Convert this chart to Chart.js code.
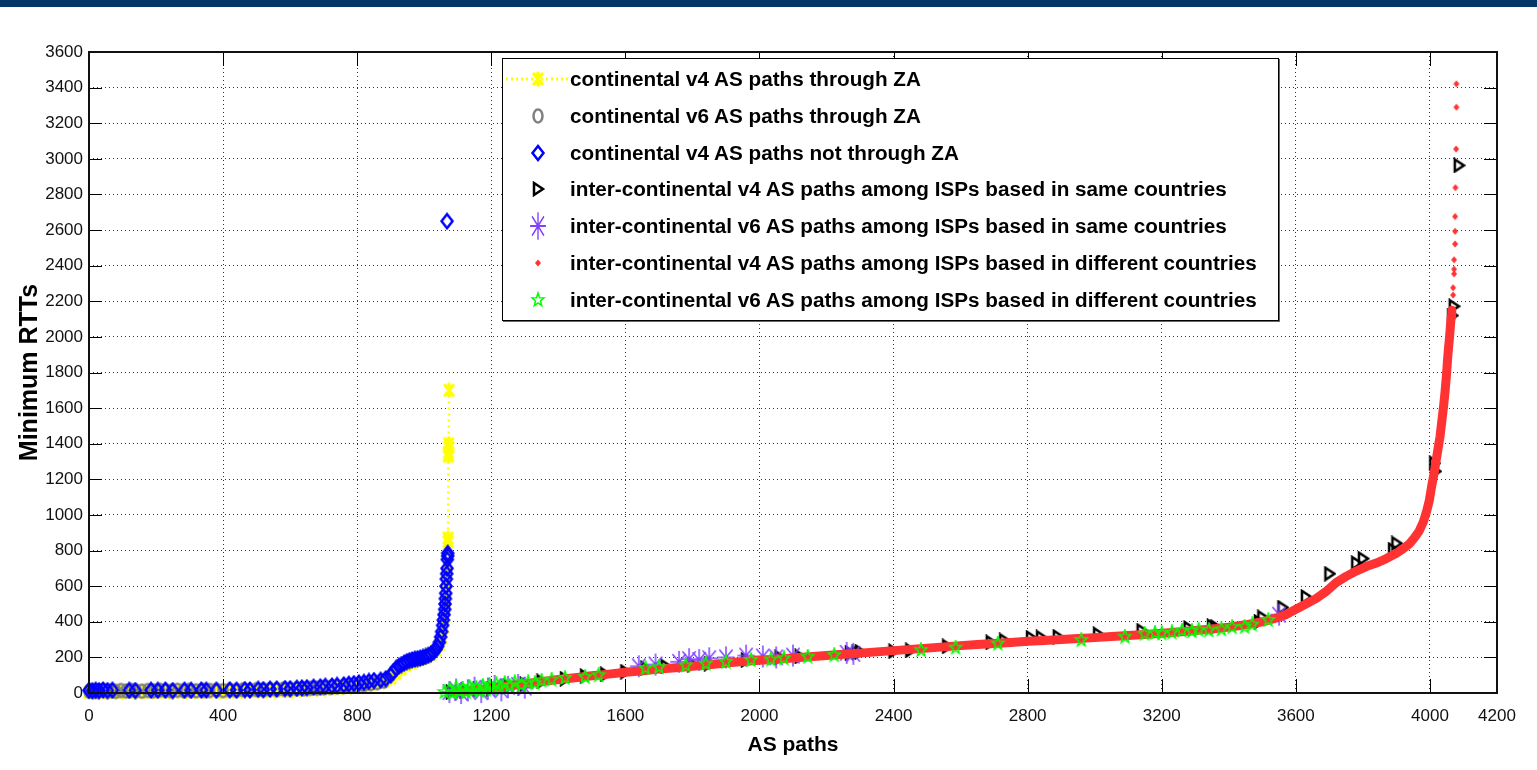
<!DOCTYPE html>
<html>
<head>
<meta charset="utf-8">
<script src="https://cdn.jsdelivr.net/npm/chart.js@4.4.1/dist/chart.umd.min.js"></script>
<style>
html,body{margin:0;padding:0;background:#fff;overflow:hidden;}
#wrap{position:relative;width:1537px;height:770px;background:#fff;}
#c{position:absolute;left:0;top:0;}
#topbar{position:absolute;left:0;top:0;width:1537px;height:7px;background:#053867;}
#legend{position:absolute;left:502px;top:58px;width:775px;height:261px;border:1px solid #000;box-shadow:1px 1px 0 #666;background:#fff;}
#legend .row{position:absolute;left:0;width:100%;height:36px;}
#legend .row canvas{position:absolute;left:0;top:0;}
#legend .row span{position:absolute;left:67px;top:0;height:36px;line-height:36px;white-space:nowrap;font-family:'Liberation Sans',Arial,sans-serif;font-weight:bold;color:#000;}
</style>
</head>
<body>
<div id="wrap">
  <canvas id="c" width="1537" height="770"></canvas>
  <div id="topbar"></div>
  <div id="legend"></div>
</div>
<script>
// ---------------- data ----------------
const seriesLabels = [
  'continental v4 AS paths through ZA',
  'continental v6 AS paths through ZA',
  'continental v4 AS paths not through ZA',
  'inter-continental v4 AS paths among ISPs based in same countries',
  'inter-continental v6 AS paths among ISPs based in same countries',
  'inter-continental v4 AS paths among ISPs based in different countries',
  'inter-continental v6 AS paths among ISPs based in different countries'
];
const xTicks = [0,400,800,1200,1600,2000,2400,2800,3200,3600,4000,4200];
const yTicks = [0,200,400,600,800,1000,1200,1400,1600,1800,2000,2200,2400,2600,2800,3000,3200,3400,3600];
const xTitle = 'AS paths';
const yTitle = 'Minimum RTTs';

const contV4ThroughZA = [[0,4],[15,6],[30,3],[45,8],[60,5],[80,7],[100,4],[120,9],[140,6],[165,8],[190,5],[215,9],[240,7],[265,10],[290,6],[315,9],[340,8],[365,11],[390,7],[410,10],[430,12],[455,9],[480,13],[505,11],[530,14],[555,12],[580,16],[605,14],[630,18],[655,20],[680,22],[705,25],[730,28],[755,32],[780,36],[805,42],[830,48],[855,55],[880,65],[900,85],[915,110],[930,135],[945,155],[960,170],[975,180],[990,190],[1005,200],[1020,215],[1035,240],[1045,270],[1052,310],[1058,370],[1062,430],[1065,520],[1067,620],[1069,720],[1071,850],[1071,870],[1072,1330],[1072,1350],[1073,1380],[1073,1400],[1074,1700]];

const contV6ThroughZA = [[0,10],[10,14],[20,8],[30,12],[42,15],[55,10],[68,13],[80,9],[95,14],[110,11],[125,15],[140,12],[158,10],[175,14],[192,12],[210,16],[228,13],[246,11],[264,15],[282,13],[300,16],[320,12],[340,15],[360,14],[380,17],[400,13],[420,16],[440,15],[460,18],[480,16],[500,19],[520,17],[540,20],[560,19],[580,22],[600,21],[620,24],[640,23],[660,26],[680,27],[700,29],[720,31],[740,33],[760,36],[780,39],[800,43],[820,47],[840,52],[860,58],[880,66]];

const contV4NotZA = [[0,15],[10,12],[20,16],[30,13],[42,17],[55,14],[70,16],[120,15],[138,14],[185,16],[205,15],[228,17],[250,14],[285,16],[305,15],[335,17],[350,16],[380,15],[420,18],[440,16],[465,19],[480,17],[505,21],[520,19],[540,22],[560,23],[585,25],[600,24],[620,27],[635,29],[650,30],[670,33],[690,35],[705,38],[725,40],[740,43],[760,46],[775,50],[790,53],[805,57],[820,60],[835,65],[850,70],[870,72],[885,80],[900,100],[908,120],[916,138],[924,150],[932,160],[940,168],[948,176],[956,182],[964,186],[972,190],[980,193],[988,196],[996,200],[1004,205],[1012,212],[1020,220],[1028,230],[1035,245],[1040,262],[1045,285],[1049,315],[1052,345],[1055,380],[1057,410],[1059,440],[1061,470],[1062,500],[1063,530],[1064,560],[1065,600],[1066,640],[1067,670],[1068,700],[1069,750],[1070,770],[1070,785],[1068,2650]];

const interV4Same = [[1080,5],[1120,10],[1160,20],[1200,25],[1250,40],[1300,50],[1350,65],[1420,80],[1480,95],[1540,105],[1600,120],[1660,140],[1720,150],[1800,160],[1850,165],[1960,185],[2060,200],[2120,205],[2270,225],[2290,228],[2300,232],[2400,235],[2450,240],[2560,262],[2690,285],[2730,295],[2810,310],[2840,312],[2890,316],[3010,330],[3140,350],[3280,365],[3350,375],[3360,372],[3490,400],[3500,425],[3560,480],[3630,540],[3700,670],[3780,730],[3800,755],[3890,805],[3900,840],[4013,1290],[4016,1245],[4066,2120],[4071,2172],[4086,2963]];

const interV6Same = [[1075,5],[1095,20],[1110,0],[1130,15],[1150,30],[1170,5],[1190,25],[1210,40],[1230,15],[1250,35],[1280,45],[1300,30],[1640,150],[1690,160],[1760,175],[1790,190],[1820,185],[1850,195],[1900,200],[1960,210],[2010,205],[2050,200],[2100,210],[2260,225],[2280,220],[3550,440]];

const interV4Diff = [[1090,5],[1130,12],[1170,20],[1210,30],[1250,40],[1300,52],[1350,64],[1400,76],[1450,86],[1500,97],[1550,106],[1600,116],[1650,125],[1700,134],[1750,142],[1800,150],[1850,159],[1900,168],[1950,177],[2000,184],[2050,190],[2100,196],[2150,203],[2200,210],[2250,217],[2300,224],[2350,231],[2400,238],[2450,245],[2500,252],[2550,259],[2600,266],[2650,272],[2700,278],[2750,284],[2800,290],[2850,295],[2900,300],[2950,306],[3000,311],[3050,317],[3100,323],[3150,329],[3200,336],[3250,343],[3300,351],[3350,360],[3400,370],[3450,383],[3500,400],[3540,420],[3570,440],[3600,470],[3630,500],[3660,530],[3690,570],[3720,620],[3750,655],[3780,685],[3810,710],[3840,730],[3870,755],[3900,785],[3920,810],[3940,840],[3955,875],[3968,910],[3980,960],[3990,1020],[3998,1080],[4005,1160],[4012,1230],[4018,1300],[4024,1370],[4030,1440],[4035,1520],[4040,1600],[4045,1690],[4049,1780],[4052,1860],[4055,1930],[4058,1990],[4061,2060],[4063,2110],[4065,2150],[4069,2235],[4069,2276],[4072,2354],[4072,2380],[4072,2433],[4075,2522],[4075,2593],[4075,2676],[4076,2838],[4078,3055],[4079,3290],[4079,3421]];

const interV6Diff = [[1060,5],[1075,20],[1085,0],[1095,30],[1105,10],[1115,25],[1125,5],[1135,35],[1145,15],[1155,30],[1165,10],[1175,40],[1185,20],[1195,45],[1205,25],[1215,50],[1225,30],[1240,55],[1255,40],[1270,60],[1290,45],[1310,60],[1330,55],[1350,70],[1380,75],[1420,85],[1480,90],[1520,100],[1660,140],[1700,145],[1780,155],[1840,165],[1900,175],[1975,185],[2034,188],[2073,195],[2144,204],[2223,213],[2482,241],[2585,255],[2711,278],[2960,298],[3090,316],[3149,333],[3180,337],[3200,335],[3230,340],[3260,350],[3290,348],[3310,355],[3340,352],[3378,358],[3410,370],[3447,372],[3470,385],[3518,410]];

// ---------------- markers ----------------
const COL = {yellow:'#ffff00', gray:'#808080', blue:'#0000ff', black:'#000000', purple:'#8040ff', red:'#ff3333', green:'#00ff00'};
const draw = {
  yellow(g,cx,cy){g.strokeStyle=COL.yellow;g.lineWidth=3.5;g.lineCap='round';g.beginPath();
    g.moveTo(cx-4,cy-5);g.lineTo(cx+4,cy+5);g.moveTo(cx+4,cy-5);g.lineTo(cx-4,cy+5);g.moveTo(cx,cy-6);g.lineTo(cx,cy+6);g.stroke();},
  gray(g,cx,cy){g.strokeStyle=COL.gray;g.lineWidth=2.5;g.beginPath();g.ellipse(cx,cy,4.5,6.5,0,0,Math.PI*2);g.stroke();},
  blue(g,cx,cy){g.strokeStyle=COL.blue;g.lineWidth=2.5;g.beginPath();g.moveTo(cx,cy-7);g.lineTo(cx+5.5,cy);g.lineTo(cx,cy+7);g.lineTo(cx-5.5,cy);g.closePath();g.stroke();},
  black(g,cx,cy){g.strokeStyle=COL.black;g.lineWidth=2.5;g.lineJoin='miter';g.beginPath();g.moveTo(cx-4,cy-6);g.lineTo(cx+5,cy);g.lineTo(cx-4,cy+6);g.closePath();g.stroke();},
  purple(g,cx,cy){g.strokeStyle=COL.purple;g.lineWidth=1.5;g.beginPath();const r=11;
    g.moveTo(cx,cy-r);g.lineTo(cx,cy+r);g.moveTo(cx-r*0.8,cy);g.lineTo(cx+r*0.8,cy);
    g.moveTo(cx-r*0.6,cy-r*0.7);g.lineTo(cx+r*0.6,cy+r*0.7);g.moveTo(cx+r*0.6,cy-r*0.7);g.lineTo(cx-r*0.6,cy+r*0.7);g.stroke();},
  red(g,cx,cy){g.fillStyle=COL.red;g.beginPath();g.moveTo(cx,cy-3.5);g.lineTo(cx+3,cy);g.lineTo(cx,cy+3.5);g.lineTo(cx-3,cy);g.closePath();g.fill();},
  green(g,cx,cy){g.strokeStyle=COL.green;g.lineWidth=1.5;g.beginPath();
    for(let i=0;i<10;i++){const a=-Math.PI/2+i*Math.PI/5;const r=(i%2===0)?7:2.9;const x=cx+r*Math.cos(a)*0.9,y=cy+r*Math.sin(a);if(i===0)g.moveTo(x,y);else g.lineTo(x,y);}
    g.closePath();g.stroke();}
};
function markerImg(name,w,h){const c=document.createElement('canvas');c.width=w;c.height=h;draw[name](c.getContext('2d'),w/2,h/2);return c;}
const img = {
  yellow:markerImg('yellow',14,16), gray:markerImg('gray',14,18), blue:markerImg('blue',16,18),
  black:markerImg('black',14,16), purple:markerImg('purple',26,26), red:markerImg('red',8,10), green:markerImg('green',16,16)
};

// ---------------- chart ----------------
const toXY = a => a.map(p => ({x:p[0], y:p[1]}));
const TICKFONT = "'Liberation Sans',Arial,sans-serif";

const boxPlugin = {
  id:'matlabBox',
  afterDatasetsDraw(chart){
    const {ctx, chartArea:a, scales:{x,y}} = chart;
    ctx.save();
    ctx.strokeStyle='#000'; ctx.lineWidth=1;
    ctx.beginPath();
    xTicks.forEach(v=>{const px=Math.round(x.getPixelForValue(v))+0.5;ctx.moveTo(px,a.bottom);ctx.lineTo(px,a.bottom-14);ctx.moveTo(px,a.top);ctx.lineTo(px,a.top+14);});
    yTicks.forEach(v=>{const py=Math.round(y.getPixelForValue(v))+0.5;ctx.moveTo(a.left,py);ctx.lineTo(a.left+13,py);ctx.moveTo(a.right,py);ctx.lineTo(a.right-13,py);});
    ctx.stroke();
    ctx.lineWidth=2; ctx.strokeStyle='#111';
    ctx.strokeRect(a.left, a.top, a.right-a.left, a.bottom-a.top);
    ctx.restore();
  }
};

const datasets = [
  {label:seriesLabels[0], data:toXY(contV4ThroughZA), pointStyle:img.yellow, showLine:true, borderColor:COL.yellow, backgroundColor:COL.yellow, borderWidth:2.5, borderDash:[2,4], order:7, clip:false},
  {label:seriesLabels[1], data:toXY(contV6ThroughZA), pointStyle:img.gray, showLine:false, borderColor:COL.gray, backgroundColor:COL.gray, order:6, clip:false},
  {label:seriesLabels[2], data:toXY(contV4NotZA), pointStyle:img.blue, showLine:false, borderColor:COL.blue, backgroundColor:COL.blue, order:5, clip:false},
  {label:seriesLabels[3], data:toXY(interV4Same), pointStyle:img.black, showLine:false, borderColor:COL.black, backgroundColor:COL.black, order:4, clip:false},
  {label:seriesLabels[4], data:toXY(interV6Same), pointStyle:img.purple, showLine:false, borderColor:COL.purple, backgroundColor:COL.purple, order:3, clip:false},
  {label:seriesLabels[5], data:toXY(interV4Diff), pointStyle:img.red, showLine:true, borderColor:COL.red, backgroundColor:COL.red, borderWidth:9, borderCapStyle:'round', borderJoinStyle:'round',
    segment:{borderColor: c => (c.p1.parsed.y > 2160 ? 'rgba(0,0,0,0)' : undefined)}, order:2, clip:false},
  {label:seriesLabels[6], data:toXY(interV6Diff), pointStyle:img.green, showLine:false, borderColor:COL.green, backgroundColor:COL.green, order:1, clip:false}
];

new Chart(document.getElementById('c'), {
  type:'scatter',
  data:{datasets},
  options:{
    responsive:false, animation:false, devicePixelRatio:1,
    layout:{padding:{left:15, right:40, top:52, bottom:12}},
    elements:{point:{radius:5, hoverRadius:5}, line:{tension:0}},
    plugins:{legend:{display:false}, tooltip:{enabled:false}},
    scales:{
      x:{type:'linear', min:0, max:4200,
        afterBuildTicks: s => { s.ticks = xTicks.map(v => ({value:v})); },
        afterFit: s => { s.height = 65; },
        grid:{color:'#333', lineWidth:1, drawTicks:false},
        border:{display:false, dash:[1,3]},
        ticks:{font:{family:TICKFONT, size:17}, color:'#111', padding:13, maxRotation:0, autoSkip:false, callback: v => String(v)},
        title:{display:true, text:xTitle, color:'#000', font:{family:"'Liberation Sans',Arial,sans-serif", size:21, weight:'bold'}, padding:0}
      },
      y:{type:'linear', min:0, max:3600,
        afterBuildTicks: s => { s.ticks = yTicks.map(v => ({value:v})); },
        afterFit: s => { s.width = 74; },
        grid:{color:'#333', lineWidth:1, drawTicks:false},
        border:{display:false, dash:[1,3]},
        ticks:{font:{family:TICKFONT, size:17}, color:'#111', padding:6, autoSkip:false, callback: v => String(v)},
        title:{display:true, text:yTitle, color:'#000', font:{family:"'Liberation Sans',Arial,sans-serif", size:25, weight:'bold'}, padding:0}
      }
    }
  },
  plugins:[boxPlugin]
});

// ---------------- legend (HTML, real text) ----------------
(function(){
  const lg = document.getElementById('legend');
  const names = ['yellow','gray','blue','black','purple','red','green'];
  const mc = document.createElement('canvas').getContext('2d');
  mc.font = "bold 20px 'Liberation Sans',Arial,sans-serif";
  let maxW = 0; seriesLabels.forEach(t => { maxW = Math.max(maxW, mc.measureText(t).width); });
  const fs = 20 * 688 / maxW;
  seriesLabels.forEach((t,i) => {
    const row = document.createElement('div'); row.className='row';
    const cy = 20 + i*36.8; row.style.top = (cy-18)+'px';
    const cv = document.createElement('canvas'); cv.width=70; cv.height=36;
    const g = cv.getContext('2d');
    if (names[i]==='yellow'){ g.strokeStyle=COL.yellow; g.lineWidth=3; g.setLineDash([2,3]); g.beginPath(); g.moveTo(3,18); g.lineTo(66,18); g.stroke(); g.setLineDash([]); }
    if (names[i]==='purple'){ g.save(); g.translate(35,18); g.scale(0.9,1.25); draw.purple(g,0,0); g.restore(); }
    else draw[names[i]](g,35,18);
    row.appendChild(cv);
    const sp = document.createElement('span'); sp.textContent=t; sp.style.fontSize=fs+'px';
    row.appendChild(sp);
    lg.appendChild(row);
  });
})();
</script>
</body>
</html>
